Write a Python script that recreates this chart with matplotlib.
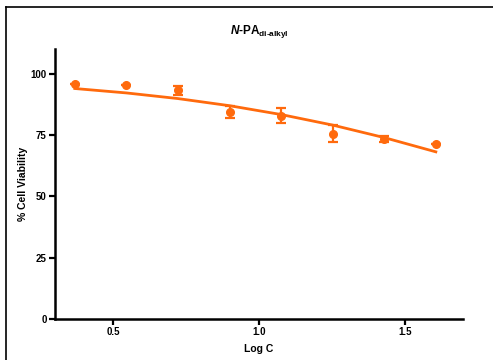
import matplotlib.pyplot as plt
from matplotlib.lines import Line2D

plt.rcParams['font.family'] = ['Liberation Sans', 'DejaVu Sans']
plt.rcParams['font.weight'] = 'bold'
plt.rcParams['mathtext.fontset'] = 'custom'
plt.rcParams['mathtext.rm'] = 'Liberation Sans:bold'
plt.rcParams['mathtext.it'] = 'Liberation Sans:italic:bold'
plt.rcParams['mathtext.bf'] = 'Liberation Sans:bold'

# viability data (mean +/- sem) vs log concentration
log_c = [0.368, 0.545, 0.722, 0.899, 1.076, 1.253, 1.430, 1.607]
viability = [95.6, 95.4, 93.1, 84.3, 82.9, 75.5, 73.3, 71.1]
sem = [0.0, 0.0, 1.7, 2.4, 3.2, 3.5, 1.3, 0.0]

# fitted dose-response curve
fit_log_c = [0.368, 0.545, 0.722, 0.899, 1.076, 1.253, 1.430, 1.607]
fit_viability = [93.9, 92.1, 89.8, 86.9, 83.3, 79.0, 73.9, 68.1]

y_ticks = [0, 25, 50, 75, 100]
x_ticks = [0.5, 1.0, 1.5]
x_tick_labels = ['0.5', '1.0', '1.5']

orange = '#FF6A0D'

fig = plt.figure(figsize=(4.93, 3.6), dpi=100)
ax = fig.add_axes([0.1116, 0.1139, 0.8274, 0.7500])

ax.plot(fit_log_c, fit_viability, color=orange, lw=2.0, zorder=2)
ax.errorbar(log_c, viability, yerr=sem, fmt='o', color=orange, ms=5.5,
            elinewidth=1.6, capsize=3.5, capthick=1.6, zorder=3)

ax.set_xlim(0.3, 1.7)
ax.set_ylim(0, 110)
ax.set_xticks(x_ticks)
ax.set_xticklabels(x_tick_labels)
ax.set_yticks(y_ticks)

for side in ['top', 'right']:
    ax.spines[side].set_visible(False)
for side in ['left', 'bottom']:
    ax.spines[side].set_linewidth(1.8)
ax.tick_params(direction='out', length=4, width=1.6, labelsize=7, pad=2)

ax.set_xlabel('Log C', fontsize=7.5, fontweight='bold', labelpad=5)
ax.set_ylabel('% Cell Viability', fontsize=7.5, fontweight='bold', labelpad=2)
ax.set_title(r'$\mathit{N}$-PA$_{\mathrm{di\text{-}alkyl}}$', fontsize=8.5,
             fontweight='bold', pad=11)

# frame lines along top and left edge of the page
fig.add_artist(Line2D([6 / 493, 1.0], [1 - 7 / 360, 1 - 7 / 360],
                      transform=fig.transFigure, color='black', lw=1.2))
fig.add_artist(Line2D([6 / 493, 6 / 493], [0.0, 1 - 7 / 360],
                      transform=fig.transFigure, color='black', lw=1.2))

fig.savefig('out.png', dpi=100)
